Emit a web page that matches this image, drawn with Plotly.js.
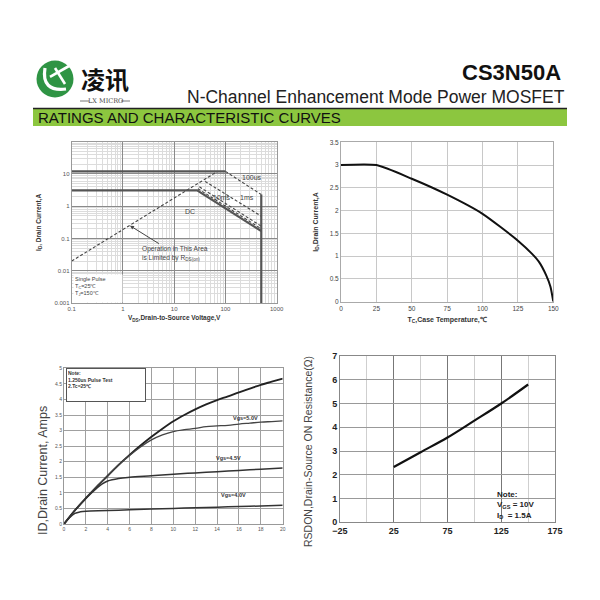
<!DOCTYPE html>
<html><head><meta charset="utf-8">
<script src="https://cdn.plot.ly/plotly-3.0.1.min.js"></script>
<style>html,body{margin:0;padding:0;background:#fff}#chart{width:600px;height:600px}</style>
</head><body><div id="chart"></div>
<script>
// ---------- Data ----------
// Safe operating area (log-log)
const soaRdsV = [0.1, 70];        const soaRdsI = [0.02, 12];
const soaPeakV = [0.1, 100];      const soaPeakI = [12, 12];
const soa100usV = [100, 500];     const soa100usI = [12, 2.3];
const soa1msV = [40, 500];        const soa1msI = [5.9, 0.49];
const soa10msV = [31, 500];       const soa10msI = [4.0, 0.24];
const soa100msV = [29, 500];      const soa100msI = [3.5, 0.2];
const soaDcV = [0.1, 28, 500];    const soaDcI = [3.1, 3.1, 0.17];
const soaBvV = [500, 500];        const soaBvI = [2.3, 0.001];
const soaXTicks = [0.1, 1, 10, 100, 1000];
const soaXTickText = ['0.1', '1', '10', '100', '1000'];
const soaYTicks = [0.001, 0.01, 0.1, 1, 10];
const soaYTickText = ['0.001', '0.01', '0.1', '1', '10'];

// Drain current derating vs case temperature
const caseTemp = [0, 25, 50, 75, 100, 125, 135, 140, 145, 148, 150];
const derateId = [3, 3, 2.7, 2.35, 1.93, 1.34, 1.05, 0.87, 0.58, 0.33, 0];

// Output characteristics
const vdsTop = [0,1,2,3,4,5,6,7,8,9,10,11,12,13,14,15,16,17,18,19,20];
const idTop  = [0,0.44,0.83,1.2,1.55,1.9,2.22,2.52,2.8,3.06,3.3,3.5,3.68,3.84,3.98,4.1,4.23,4.35,4.47,4.57,4.67];
const vds50 = [0,1,2,3,4,5,6,7,8,9,10,11,12,13,14,15,16,17,18,19,20];
const id50  = [0,0.44,0.83,1.2,1.55,1.9,2.2,2.47,2.7,2.86,2.97,3.03,3.07,3.13,3.15,3.17,3.21,3.24,3.27,3.29,3.31];
const vds45 = [0,1,2,3,3.5,4,5,6,8,10,12,14,16,18,20];
const id45  = [0,0.44,0.82,1.15,1.29,1.38,1.46,1.5,1.55,1.6,1.64,1.68,1.72,1.76,1.8];
const vds40 = [0,0.5,1,1.5,2,4,6,8,10,12,14,16,18,20];
const id40  = [0,0.2,0.34,0.39,0.41,0.43,0.46,0.48,0.5,0.52,0.54,0.56,0.58,0.6];

// On-resistance vs temperature
const junctionTemp = [25, 50, 75, 100, 125, 150];
const rdsOn = [2.33, 2.95, 3.57, 4.28, 5.0, 5.8];
const rdsXTicks = [-25, 25, 75, 125, 175];

// ---------- helpers (page pixel -> paper) ----------
const PX = x => x / 600;
const PY = y => 1 - y / 600;
const L10 = v => Math.log10(v);
function pathPx(cmds){
  return cmds.map(c => c[0] + ' ' + c.slice(1).map((v,i)=> i%2===0 ? PX(v).toFixed(5) : PY(v).toFixed(5)).join(' ')).join(' ');
}
function logMinor(lo, hi){ const a=[]; for(let e=lo;e<hi;e++){ for(let k=2;k<=9;k++) a.push(k*Math.pow(10,e)); } return a; }

const FONT = 'Liberation Sans, Arial, sans-serif';
const darkDash = {color:'#444', width:1.1, dash:'3px,2px'};
const solidGray = {color:'#555', width:2.2};

const traces = [
  {x: soaRdsV, y: soaRdsI, xaxis:'x', yaxis:'y', mode:'lines', line: darkDash, name:'RDS(on) limit'},
  {x: soaPeakV, y: soaPeakI, xaxis:'x', yaxis:'y', mode:'lines', line: solidGray, name:'IDM'},
  {x: soa100usV, y: soa100usI, xaxis:'x', yaxis:'y', mode:'lines', line: darkDash, name:'100us'},
  {x: soa1msV, y: soa1msI, xaxis:'x', yaxis:'y', mode:'lines', line: darkDash, name:'1ms'},
  {x: soa10msV, y: soa10msI, xaxis:'x', yaxis:'y', mode:'lines', line: darkDash, name:'10ms'},
  {x: soa100msV, y: soa100msI, xaxis:'x', yaxis:'y', mode:'lines', line: darkDash, name:'100ms'},
  {x: soaDcV, y: soaDcI, xaxis:'x', yaxis:'y', mode:'lines', line: solidGray, name:'DC'},
  {x: soaBvV, y: soaBvI, xaxis:'x', yaxis:'y', mode:'lines', line: solidGray, name:'BVDSS'},

  {x: caseTemp, y: derateId, xaxis:'x2', yaxis:'y2', mode:'lines', line:{color:'#111', width:2, shape:'spline', smoothing:0.6}, name:'ID'},

  {x: vdsTop, y: idTop, xaxis:'x3', yaxis:'y3', mode:'lines', line:{color:'#222', width:1.9, shape:'spline'}, name:'Vgs=10V'},
  {x: vds50, y: id50, xaxis:'x3', yaxis:'y3', mode:'lines', line:{color:'#444', width:1.3, shape:'spline'}, name:'Vgs=5.0V'},
  {x: vds45, y: id45, xaxis:'x3', yaxis:'y3', mode:'lines', line:{color:'#333', width:1.5, shape:'spline'}, name:'Vgs=4.5V'},
  {x: vds40, y: id40, xaxis:'x3', yaxis:'y3', mode:'lines', line:{color:'#333', width:1.5, shape:'spline'}, name:'Vgs=4.0V'},

  {x: junctionTemp, y: rdsOn, xaxis:'x4', yaxis:'y4', mode:'lines', line:{color:'#111', width:2.2, shape:'spline'}, name:'RDS(on)'}
];

const gridA = '#a0a0a0';
const layout = {
  width: 600, height: 600,
  margin: {l:0, r:0, t:0, b:0},
  paper_bgcolor: '#fff', plot_bgcolor: '#fff',
  showlegend: false,
  font: {family: FONT, color:'#333'},
  // SOA
  xaxis: {domain:[PX(71.7), PX(276.7)], anchor:'y', type:'log', range:[-1,3],
    tickmode:'array', tickvals: soaXTicks, ticktext: soaXTickText, ticks:'',
    tickfont:{size:6, color:'#555'}, showgrid:true, gridcolor:'#8a8a8a', gridwidth:1,
    minor:{tickmode:'array', tickvals: logMinor(-1,3), showgrid:true, gridcolor:'#dcdcdc', ticks:''},
    showline:true, linecolor:'#999', mirror:true, zeroline:false,
    title:{text:'V<sub>DS</sub>,Drain-to-Source Voltage,V', font:{size:6.5, color:'#333', weight:'bold'}, standoff:4}},
  yaxis: {domain:[PY(303), PY(141.7)], anchor:'x', type:'log', range:[-3,2],
    tickmode:'array', tickvals: soaYTicks, ticktext: soaYTickText, ticks:'',
    tickfont:{size:6, color:'#555'}, showgrid:true, gridcolor:'#8a8a8a',
    minor:{tickmode:'array', tickvals: logMinor(-3,2), showgrid:true, gridcolor:'#dcdcdc', ticks:''},
    showline:true, linecolor:'#999', mirror:true, zeroline:false,
    title:{text:'I<sub>D</sub>, Drain Current,A', font:{size:6.5, color:'#333', weight:'bold'}, standoff:12}},
  // Derating
  xaxis2: {domain:[PX(341), PX(553.3)], anchor:'y2', range:[0,150], dtick:25, ticks:'',
    tickfont:{size:6.5, color:'#444'}, showgrid:true, gridcolor:'#c8c8c8', zeroline:false,
    showline:true, linecolor:'#aaa', mirror:true,
    title:{text:'T<sub>C</sub>,Case Temperature,℃', font:{size:7, color:'#333', weight:'bold'}, standoff:6}},
  yaxis2: {domain:[PY(301.7), PY(142.3)], anchor:'x2', range:[0,3.5], dtick:0.5, ticks:'',
    tickfont:{size:6.5, color:'#444'}, showgrid:true, gridcolor:'#c8c8c8', zeroline:false,
    showline:true, linecolor:'#aaa', mirror:true,
    title:{text:'I<sub>D</sub>,Drain Current,A', font:{size:7, color:'#333', weight:'bold'}, standoff:10}},
  // Output characteristics
  xaxis3: {domain:[PX(64), PX(282.7)], anchor:'y3', range:[0,20], dtick:2, ticks:'',
    tickfont:{size:5, color:'#555'}, showgrid:true, gridcolor:gridA, zeroline:false,
    showline:true, linecolor:'#999', mirror:true},
  yaxis3: {domain:[PY(524), PY(368.3)], anchor:'x3', range:[0,5], dtick:0.5, ticks:'',
    tickfont:{size:5, color:'#555'}, showgrid:true, gridcolor:gridA, zeroline:false,
    showline:true, linecolor:'#999', mirror:true},
  // RDS(on)
  xaxis4: {domain:[PX(340), PX(555)], anchor:'y4', range:[-25,175], tickmode:'array', tickvals: rdsXTicks, ticks:'',
    tickfont:{size:9, color:'#222', weight:'bold'}, showgrid:true, gridcolor:'#777', zeroline:false,
    minor:{tickmode:'array', tickvals:[0,50,100,150], showgrid:true, gridcolor:'#cfcfcf', ticks:''},
    showline:true, linecolor:'#888', mirror:true},
  yaxis4: {domain:[PY(522.3), PY(356)], anchor:'x4', range:[0,7], dtick:1, ticks:'',
    tickfont:{size:9, color:'#222', weight:'bold'}, showgrid:true, gridcolor:'#999', zeroline:false,
    showline:true, linecolor:'#888', mirror:true},

  shapes: [
    // header green bar
    {type:'rect', xref:'paper', yref:'paper', x0:PX(33), x1:PX(567), y0:PY(126), y1:PY(109), fillcolor:'#8cc63f', line:{width:0}, layer:'below'},
    {type:'line', xref:'paper', yref:'paper', x0:PX(33), x1:PX(567), y0:PY(108.5), y1:PY(108.5), line:{color:'#222', width:1.5}},
    // logo circle
    {type:'circle', xref:'paper', yref:'paper', x0:PX(36.5), x1:PX(73.5), y0:PY(97.5), y1:PY(60.5), fillcolor:'#2f9444', line:{width:0}},
    {type:'path', xref:'paper', yref:'paper', path: pathPx([['M',45,68],['Q',41,92,66,89]]), line:{color:'#fff', width:3.2}},
    {type:'path', xref:'paper', yref:'paper', path: pathPx([['M',50,77],['L',69,66]]), line:{color:'#fff', width:2.6}},
    {type:'path', xref:'paper', yref:'paper', path: pathPx([['M',55,68],['L',65,84]]), line:{color:'#fff', width:2.6}},
    // small lines beside LX MICRO
    {type:'line', xref:'paper', yref:'paper', x0:PX(80), x1:PX(89), y0:PY(101), y1:PY(101), line:{color:'#555', width:0.8}},
    {type:'line', xref:'paper', yref:'paper', x0:PX(121), x1:PX(130), y0:PY(101), y1:PY(101), line:{color:'#555', width:0.8}}
  ],

  annotations: [
    // header texts
    {xref:'paper', yref:'paper', x:PX(563), y:PY(72), xanchor:'right', yanchor:'middle', showarrow:false,
      text:'<b>CS3N50A</b>', font:{size:22, color:'#111', family:FONT}},
    {xref:'paper', yref:'paper', x:PX(567), y:PY(97), xanchor:'right', yanchor:'middle', showarrow:false,
      text:'N-Channel Enhancement Mode Power MOSFET', font:{size:17.5, color:'#222', family:FONT}},
    {xref:'paper', yref:'paper', x:PX(36), y:PY(117.5), xanchor:'left', yanchor:'middle', showarrow:false,
      text:'RATINGS AND CHARACTERISTIC CURVES', font:{size:15, color:'#111', family:FONT}},
    {xref:'paper', yref:'paper', x:PX(105), y:PY(79), xanchor:'center', yanchor:'middle', showarrow:false,
      text:'<b>凌讯</b>', font:{size:24, color:'#111', family:'Noto Sans CJK SC'}},
    {xref:'paper', yref:'paper', x:PX(105), y:PY(101), xanchor:'center', yanchor:'middle', showarrow:false,
      text:'LX MICRO', font:{size:6.5, color:'#444', family:'DejaVu Serif, serif'}},

    // SOA labels
    {xref:'x', yref:'y', x:L10(330), y:L10(7.6), text:'100us', showarrow:false, font:{size:7, color:'#444'}},
    {xref:'x', yref:'y', x:L10(265), y:L10(1.8), text:'1ms', showarrow:false, font:{size:7, color:'#444'}},
    {xref:'x', yref:'y', x:L10(85), y:L10(1.8), text:'10ms', showarrow:false, font:{size:7, color:'#444'}},
    {xref:'x', yref:'y', x:L10(20), y:L10(0.7), text:'DC', showarrow:false, font:{size:7, color:'#444'}},
    {xref:'x', yref:'y', x:L10(1.37), y:L10(0.25), ax:45, ay:28, axref:'pixel', ayref:'pixel', align:'left',
      text:'Operation in This Area<br>is Limited by R<sub>DS(on)</sub>', font:{size:6.6, color:'#444'},
      showarrow:true, arrowhead:2, arrowsize:0.8, arrowwidth:1, arrowcolor:'#444'},
    {xref:'paper', yref:'paper', x:PX(72.5), y:PY(302.5), xanchor:'left', yanchor:'bottom', align:'left', valign:'top',
      width:46, height:25, bgcolor:'#fff', showarrow:false,
      text:'Single Pulse<br>T<sub>C</sub>=25℃<br>T<sub>J</sub>=150℃', font:{size:5.5, color:'#444'}},

    // Output characteristics labels
    {xref:'x3', yref:'y3', x:16.6, y:3.42, text:'<b>Vgs=5.0V</b>', showarrow:false, font:{size:5.5, color:'#333'}},
    {xref:'x3', yref:'y3', x:15.0, y:2.12, text:'<b>Vgs=4.5V</b>', showarrow:false, font:{size:5.5, color:'#333'}},
    {xref:'x3', yref:'y3', x:15.5, y:0.92, text:'<b>Vgs=4.0V</b>', showarrow:false, font:{size:5.5, color:'#333'}},
    {xref:'paper', yref:'paper', x:PX(66), y:PY(367.5), xanchor:'left', yanchor:'top', align:'left', valign:'top',
      width:76, height:30, bgcolor:'#fff', bordercolor:'#555', borderwidth:1, showarrow:false,
      text:'<b>Note:<br>1.250us Pulse Test<br>2.Tc=25℃</b>', font:{size:5, color:'#333'}},
    // Output y-axis title
    {xref:'paper', yref:'paper', x:PX(43), y:PY(471), xanchor:'center', yanchor:'middle', textangle:-90, showarrow:false,
      text:'ID,Drain Current, Amps', font:{size:12.5, color:'#444'}},

    // RDS(on) y-axis title and note
    {xref:'paper', yref:'paper', x:PX(308), y:PY(452), xanchor:'center', yanchor:'middle', textangle:-90, showarrow:false,
      text:'RSDON,Drain-Source ON Resistance(Ω)', font:{size:10.5, color:'#444'}},
    {xref:'paper', yref:'paper', x:PX(495), y:PY(504.5), xanchor:'left', yanchor:'middle', align:'left', showarrow:false,
      text:'<b>Note:<br>V<sub>GS</sub> = 10V<br>I<sub>D</sub>  = 1.5A</b>', font:{size:8, color:'#222'}}
  ]
};

Plotly.newPlot('chart', traces, layout, {staticPlot:true, displayModeBar:false});
</script></body></html>
